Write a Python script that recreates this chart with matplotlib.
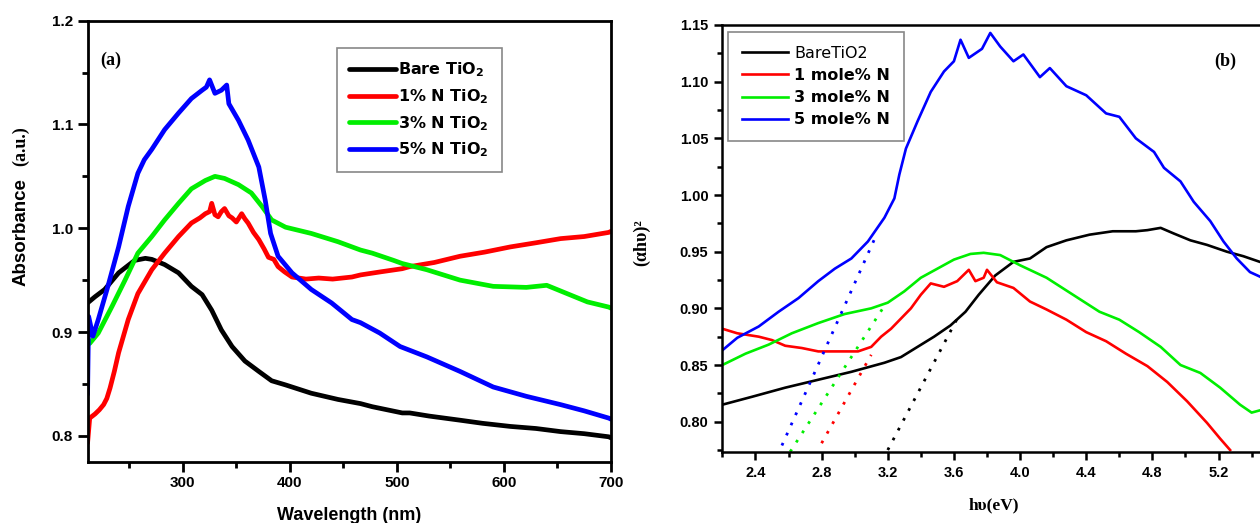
import matplotlib
matplotlib.use("Agg")
import matplotlib.pyplot as plt
from matplotlib.ticker import MultipleLocator, FixedLocator, FormatStrFormatter

# ---------------- (a) UV-vis absorbance spectra ----------------
wl_bare = [211, 218, 227, 240, 255, 265, 271, 283, 296, 308, 318, 327, 336, 346, 358,
           371, 383, 396, 420, 445, 466, 477, 505, 512, 530, 559, 580, 606, 630, 653,
           675, 698, 700]
abs_bare = [0.928, 0.934, 0.941, 0.957, 0.969, 0.971, 0.970, 0.965, 0.957, 0.944, 0.936,
            0.921, 0.902, 0.886, 0.872, 0.862, 0.853, 0.849, 0.841, 0.835, 0.831, 0.828,
            0.822, 0.822, 0.819, 0.815, 0.812, 0.809, 0.807, 0.804, 0.802, 0.799, 0.798]

wl_1n = [211, 213, 218, 222, 226, 229, 232, 236, 240, 249, 258, 271, 283, 296, 308,
         316, 321, 325, 327, 330, 333, 336, 339, 343, 346, 350, 355, 358, 361, 366,
         371, 376, 380, 385, 389, 395, 402, 415, 427, 440, 458, 466, 485, 505, 512,
         535, 559, 582, 606, 630, 653, 675, 698, 700]
abs_1n = [0.793, 0.817, 0.821, 0.825, 0.830, 0.836, 0.846, 0.862, 0.880, 0.912, 0.937,
          0.960, 0.976, 0.992, 1.005, 1.010, 1.014, 1.016, 1.024, 1.013, 1.011, 1.016,
          1.019, 1.012, 1.010, 1.006, 1.014, 1.009, 1.005, 0.996, 0.989, 0.980, 0.972,
          0.970, 0.963, 0.958, 0.953, 0.951, 0.952, 0.951, 0.953, 0.955, 0.958, 0.961,
          0.963, 0.967, 0.973, 0.977, 0.982, 0.986, 0.990, 0.992, 0.996, 0.997]

wl_3n = [211, 213, 221, 234, 246, 258, 271, 283, 296, 308, 321, 330, 339, 352, 364,
         374, 383, 396, 420, 445, 466, 477, 497, 505, 528, 559, 590, 621, 640, 659,
         678, 698, 700]
abs_3n = [0.893, 0.889, 0.899, 0.925, 0.950, 0.976, 0.992, 1.008, 1.024, 1.038, 1.046,
          1.050, 1.048, 1.042, 1.034, 1.021, 1.008, 1.001, 0.995, 0.987, 0.979, 0.976,
          0.969, 0.966, 0.960, 0.950, 0.944, 0.943, 0.945, 0.937, 0.929, 0.924, 0.923]

wl_5n = [211, 212, 216, 221, 230, 240, 249, 258, 264, 271, 283, 296, 308, 318, 322,
         325, 330, 336, 341, 343, 352, 361, 371, 377, 382, 389, 402, 420, 439, 458,
         466, 484, 503, 528, 559, 590, 621, 653, 675, 698, 700]
abs_5n = [0.840, 0.915, 0.896, 0.912, 0.944, 0.982, 1.021, 1.053, 1.066, 1.076, 1.095,
          1.111, 1.125, 1.133, 1.136, 1.143, 1.130, 1.133, 1.138, 1.120, 1.104, 1.085,
          1.059, 1.027, 0.995, 0.973, 0.957, 0.941, 0.928, 0.912, 0.909, 0.899, 0.886,
          0.876, 0.862, 0.847, 0.838, 0.830, 0.824, 0.817, 0.816]

labels_a = [r"Bare TiO$_\mathbf{2}$", r"1% N TiO$_\mathbf{2}$",
            r"3% N TiO$_\mathbf{2}$", r"5% N TiO$_\mathbf{2}$"]

# ---------------- (b) Tauc-type plot ----------------
ev_bare = [2.20, 2.38, 2.58, 2.78, 2.98, 3.18, 3.28, 3.38, 3.48, 3.58, 3.67, 3.75,
           3.85, 3.96, 4.06, 4.16, 4.28, 4.42, 4.56, 4.70, 4.77, 4.85, 4.93, 5.03,
           5.13, 5.25, 5.35, 5.45, 5.60]
ab_bare = [0.815, 0.822, 0.830, 0.837, 0.844, 0.852, 0.857, 0.866, 0.875, 0.885, 0.897,
           0.912, 0.929, 0.941, 0.944, 0.954, 0.960, 0.965, 0.968, 0.968, 0.969, 0.971,
           0.966, 0.960, 0.956, 0.950, 0.946, 0.941, 0.936]

ev_1n = [2.20, 2.29, 2.42, 2.50, 2.58, 2.68, 2.78, 2.90, 3.02, 3.10, 3.16, 3.22, 3.28,
         3.34, 3.40, 3.46, 3.54, 3.62, 3.69, 3.73, 3.78, 3.80, 3.86, 3.96, 4.06, 4.16,
         4.28, 4.40, 4.52, 4.64, 4.77, 4.89, 5.01, 5.13, 5.21, 5.27]
ab_1n = [0.882, 0.878, 0.875, 0.872, 0.867, 0.865, 0.862, 0.862, 0.862, 0.866, 0.875,
         0.882, 0.891, 0.900, 0.912, 0.922, 0.919, 0.924, 0.934, 0.924, 0.927, 0.934,
         0.923, 0.918, 0.906, 0.899, 0.890, 0.879, 0.871, 0.860, 0.849, 0.835, 0.818,
         0.799, 0.785, 0.775]

ev_3n = [2.20, 2.34, 2.48, 2.62, 2.78, 2.94, 3.10, 3.20, 3.30, 3.40, 3.50, 3.60, 3.70,
         3.78, 3.88, 4.00, 4.16, 4.32, 4.48, 4.60, 4.72, 4.85, 4.97, 5.09, 5.21, 5.33,
         5.40, 5.45, 5.60]
ab_3n = [0.850, 0.860, 0.868, 0.878, 0.887, 0.895, 0.900, 0.905, 0.915, 0.927, 0.935,
         0.943, 0.948, 0.949, 0.947, 0.938, 0.927, 0.912, 0.897, 0.890, 0.879, 0.866,
         0.850, 0.843, 0.830, 0.815, 0.808, 0.810, 0.806]

ev_5n = [2.20, 2.29, 2.42, 2.54, 2.66, 2.78, 2.88, 2.98, 3.08, 3.18, 3.24, 3.27, 3.31,
         3.38, 3.46, 3.54, 3.60, 3.64, 3.69, 3.77, 3.82, 3.88, 3.96, 4.02, 4.12, 4.18,
         4.28, 4.40, 4.52, 4.60, 4.70, 4.81, 4.87, 4.97, 5.05, 5.15, 5.23, 5.31, 5.39,
         5.45, 5.60]
ab_5n = [0.863, 0.874, 0.884, 0.897, 0.909, 0.924, 0.935, 0.944, 0.959, 0.980, 0.997,
         1.018, 1.041, 1.065, 1.091, 1.109, 1.118, 1.137, 1.121, 1.129, 1.143, 1.131,
         1.118, 1.124, 1.104, 1.112, 1.096, 1.088, 1.072, 1.069, 1.050, 1.038, 1.024,
         1.012, 0.994, 0.977, 0.959, 0.944, 0.932, 0.928, 0.915]

labels_b = ["BareTiO2", "1 mole% N", "3 mole% N", "5 mole% N"]
ticks_ev = [2.4, 2.8, 3.2, 3.6, 4.0, 4.4, 4.8, 5.2]

# linear band-edge extrapolations (start and end points)
fit_bare = ([3.20, 3.62], [0.775, 0.891])
fit_1n = ([2.80, 3.10], [0.781, 0.859])
fit_3n = ([2.61, 3.17], [0.7735, 0.900])
fit_5n = ([2.56, 3.135], [0.779, 0.966])

colors = ["#000000", "#ff0000", "#00ee00", "#0000ff"]

plt.rcParams["font.family"] = ["Liberation Sans", "DejaVu Sans"]
plt.rcParams["font.weight"] = "bold"
plt.rcParams["mathtext.fontset"] = "dejavusans"

fig = plt.figure(figsize=(12.6, 5.23), dpi=100)
fig.patch.set_facecolor("white")

# ---- panel (a) ----
ax1 = fig.add_axes([0.0695, 0.1172, 0.4158, 0.8432])
series_a = [(wl_bare, abs_bare), (wl_1n, abs_1n), (wl_3n, abs_3n), (wl_5n, abs_5n)]
for (x, y), c, lab in zip(series_a, colors, labels_a):
    ax1.plot(x, y, color=c, lw=3.4, label=lab, solid_joinstyle="round",
             solid_capstyle="round")
ax1.set_xlim(211, 700.5)
ax1.set_ylim(0.775, 1.2)
ax1.xaxis.set_major_locator(MultipleLocator(100))
ax1.xaxis.set_minor_locator(MultipleLocator(50))
ax1.yaxis.set_major_locator(MultipleLocator(0.1))
ax1.yaxis.set_minor_locator(MultipleLocator(0.05))
ax1.yaxis.set_major_formatter(FormatStrFormatter("%.1f"))
for s in ax1.spines.values():
    s.set_linewidth(2.0)
ax1.tick_params(which="major", direction="out", length=7, width=2.0, pad=3.5,
                labelsize=11)
ax1.tick_params(which="minor", direction="out", length=4, width=2.0)
for t in ax1.get_xticklabels() + ax1.get_yticklabels():
    t.set_fontweight("bold")
ax1.set_xlabel("Wavelength (nm)", fontsize=13, fontweight="bold", labelpad=12)
leg1 = ax1.legend(loc="upper left", bbox_to_anchor=(0.4755, 0.9388),
                  prop={"family": "DejaVu Sans", "weight": "bold", "size": 11.5},
                  handlelength=2.9, handletextpad=0.15, labelspacing=0.5,
                  borderpad=0.8, fancybox=False, framealpha=1, borderaxespad=0)
leg1.get_frame().set_edgecolor("#888888")
leg1.get_frame().set_linewidth(1.2)
ax1.text(0.024, 0.909, "(a)", transform=ax1.transAxes, fontsize=13,
         fontweight="bold", family="Liberation Serif", va="center", ha="left")
fig.text(0.0167, 0.556, "Absorbance", rotation=90, fontsize=13.5,
         fontweight="bold", ha="center", va="center")
fig.text(0.0167, 0.721, "(a.u.)", rotation=90, fontsize=13,
         fontweight="bold", family="Liberation Serif", ha="center", va="center")

# ---- panel (b) ----
ax2 = fig.add_axes([0.5733, 0.1363, 0.4463, 0.8159])
series_b = [(ev_bare, ab_bare), (ev_1n, ab_1n), (ev_3n, ab_3n), (ev_5n, ab_5n)]
for (x, y), c, lab in zip(series_b, colors, labels_b):
    ax2.plot(x, y, color=c, lw=1.9, label=lab, solid_joinstyle="round")
for (x, y), c in zip([fit_bare, fit_1n, fit_3n, fit_5n], colors):
    ax2.plot(x, y, color=c, lw=2.0, linestyle=(0, (1, 3)))
ax2.set_xlim(2.2, 5.6)
ax2.set_ylim(0.7735, 1.15)
ax2.xaxis.set_major_locator(FixedLocator(ticks_ev))
ax2.xaxis.set_minor_locator(MultipleLocator(0.2))
ax2.yaxis.set_major_locator(MultipleLocator(0.05))
ax2.yaxis.set_minor_locator(MultipleLocator(0.025))
ax2.yaxis.set_major_formatter(FormatStrFormatter("%.2f"))
ax2.xaxis.set_major_formatter(FormatStrFormatter("%.1f"))
for s in ax2.spines.values():
    s.set_linewidth(1.8)
ax2.tick_params(which="major", direction="out", length=6, width=1.8, pad=4,
                labelsize=10.5)
ax2.tick_params(which="minor", direction="out", length=3.5, width=1.8)
for t in ax2.get_xticklabels() + ax2.get_yticklabels():
    t.set_fontweight("bold")
ax2.set_xlabel("h\u03c5(eV)", fontsize=12.5, fontweight="bold",
               family="Liberation Serif")
ax2.xaxis.set_label_coords(0.482, -0.108)
ax2.set_ylabel("(\u03b1h\u03c5)\u00b2", fontsize=13, fontweight="bold",
               family="Liberation Serif")
ax2.yaxis.set_label_coords(-0.128, 0.49)
leg2 = ax2.legend(loc="upper left", bbox_to_anchor=(0.01, 0.983),
                  prop={"family": "DejaVu Sans", "weight": "bold", "size": 11.5},
                  handlelength=2.9, handletextpad=0.4, labelspacing=0.45,
                  borderpad=0.85, fancybox=False, framealpha=1, borderaxespad=0)
leg2.get_frame().set_edgecolor("#888888")
leg2.get_frame().set_linewidth(1.2)
leg2.get_texts()[0].set_fontweight("normal")
ax2.text(0.894, 0.914, "(b)", transform=ax2.transAxes, fontsize=13,
         fontweight="bold", family="Liberation Serif", va="center", ha="center")

fig.savefig("out.png", dpi=100, facecolor="white")
